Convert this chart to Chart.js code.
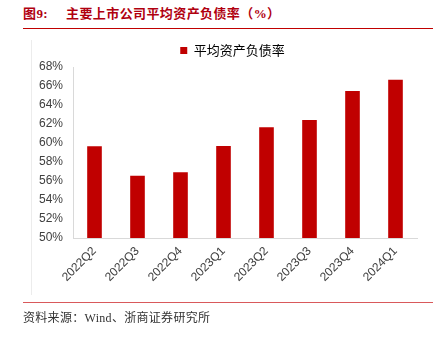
<!DOCTYPE html>
<html>
<head>
<meta charset="utf-8">
<script src="https://cdn.jsdelivr.net/npm/chart.js@4/dist/chart.umd.min.js"></script>
<style>
  html, body { margin: 0; padding: 0; background: #fff; }
  #wrap { position: relative; width: 440px; height: 338px; overflow: hidden; background: #fff; }
  #c { position: absolute; left: 0; top: 0; }
  #title { position: absolute; left: 23px; top: 5px; font: bold 13px "Liberation Serif", "Noto Sans CJK SC", serif; color: #b0000f; letter-spacing: 0.4px; white-space: nowrap; line-height: 18px; }
  #title .num { margin-right: 18px; }
  #topline { position: absolute; left: 23px; top: 28px; width: 410px; height: 1px; background: #c00000; }
  #botline { position: absolute; left: 23px; top: 302px; width: 410px; height: 1px; background: #d9595b; }
  #frame { position: absolute; left: 31px; top: 40px; width: 1px; height: 255px; background: #ececec; }
  #source { position: absolute; left: 23px; top: 310px; font: 12px "Liberation Serif", "Noto Sans CJK SC", serif; color: #333; white-space: nowrap; line-height: 16px; letter-spacing: 0.3px; }
</style>
</head>
<body>
<div id="wrap">
  <div id="title"><span class="num">图9:</span>主要上市公司平均资产负债率（%）</div>
  <div id="topline"></div>
  <div id="frame"></div>
  <canvas id="c" width="440" height="338"></canvas>
  <div id="botline"></div>
  <div id="source">资料来源：Wind、浙商证券研究所</div>
</div>
<script>
const categories = ["2022Q2", "2022Q3", "2022Q4", "2023Q1", "2023Q2", "2023Q3", "2023Q4", "2024Q1"];
const seriesName = "平均资产负债率";
const debtRatio = [59.65, 56.55, 56.93, 59.69, 61.66, 62.41, 65.48, 66.66];
const yMin = 50, yMax = 68, yStep = 2;

const tickFont = { family: '"Liberation Sans Narrow", "Arial Narrow", "Liberation Sans", sans-serif', size: 12 };

const shiftLegend = {
  id: 'shiftLegend',
  afterLayout(chart) {
    const lg = chart.legend;
    if (lg) { lg.left += 14; lg.right += 14; }
  }
};

new Chart(document.getElementById('c'), {
  type: 'bar',
  data: {
    labels: categories,
    datasets: [{
      label: seriesName,
      data: debtRatio,
      backgroundColor: '#c00000',
      borderWidth: 0,
      categoryPercentage: 1,
      barPercentage: 0.34
    }]
  },
  plugins: [shiftLegend],
  options: {
    responsive: false,
    animation: false,
    devicePixelRatio: 1,
    layout: { padding: { left: 20, right: 23, top: 38, bottom: 50 } },
    plugins: {
      legend: {
        display: true,
        position: 'top',
        labels: {
          boxWidth: 7,
          boxHeight: 7,
          padding: 6,
          color: '#000',
          font: { family: '"Noto Sans CJK SC", sans-serif', size: 13 }
        }
      },
      tooltip: { enabled: false }
    },
    scales: {
      x: {
        grid: { display: false, drawTicks: false },
        border: { display: true, color: '#d9d9d9', width: 1 },
        ticks: {
          maxRotation: 45,
          minRotation: 45,
          autoSkip: false,
          padding: 6,
          color: '#404040',
          font: tickFont
        },
        afterFit: (s) => { s.height = 50; }
      },
      y: {
        min: yMin,
        max: yMax,
        grid: { display: false, drawTicks: false },
        border: { display: true, color: '#d9d9d9', width: 1 },
        ticks: {
          stepSize: yStep,
          padding: 10,
          color: '#404040',
          font: tickFont,
          callback: (v) => v + '%'
        },
        afterFit: (s) => { s.width = 53; }
      }
    }
  }
});
</script>
</body>
</html>
